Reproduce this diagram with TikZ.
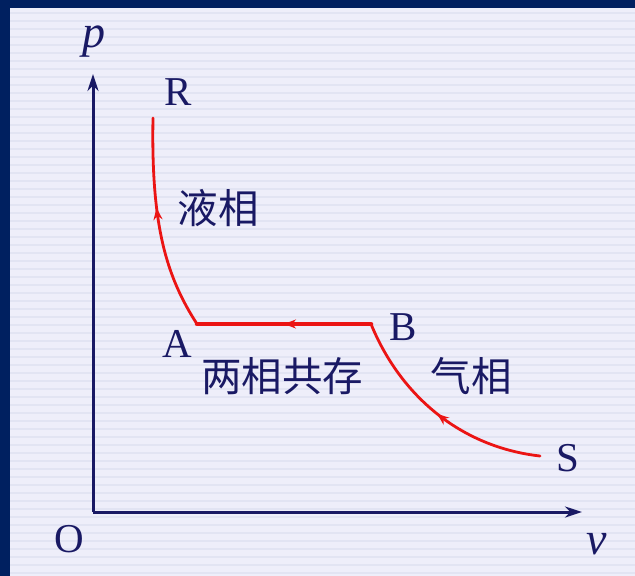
\documentclass[tikz,border=0pt]{standalone}
\usepackage{fontspec}
\setmainfont{Liberation Serif}
\newfontfamily\cjk{Noto Sans CJK SC}
\usetikzlibrary{arrows.meta,decorations.markings}
\definecolor{navyborder}{RGB}{0,32,96}
\definecolor{paper}{RGB}{238,238,250}
\definecolor{ruling}{RGB}{226,228,243}
\definecolor{ink}{RGB}{25,25,100}
\definecolor{curvered}{RGB}{235,20,20}
\tikzset{
  axis/.style={draw=ink, line width=3pt, -{Stealth[length=17pt,width=11pt]}},
  lbl/.style={text=ink, font=\fontsize{41}{43}\selectfont, inner sep=0pt},
  ilbl/.style={text=ink, font=\itshape\fontsize{46}{48}\selectfont, inner sep=0pt},
  cjklbl/.style={text=ink, font=\cjk\fontsize{40.5}{42}\selectfont, inner sep=0pt},
  phase/.style={draw=curvered, line width=2.8pt, line cap=round, line join=round},
  midarrow/.style={postaction={decorate}, decoration={markings,
     mark=at position #1 with {\arrow{Stealth[length=12pt,width=9pt]}}}}
}
\begin{document}
\begin{tikzpicture}[x=1pt,y=-1pt]
\useasboundingbox (0,0) rectangle (635,576);
\fill[navyborder] (0,0) rectangle (635,576);
\fill[paper] (10,8) rectangle (635,576);
\foreach \yy in {13,21,...,573} {\draw[ruling, line width=1.2pt] (10,\yy) -- (635,\yy);}
% axes
\coordinate (O) at (93,512);
\coordinate (ytip) at (93,74);
\coordinate (xtip) at (582,512);
\draw[axis] (O) -- (ytip);
\draw[axis] (O) -- (xtip);
% curve points
\coordinate (Rp) at (153,118);
\coordinate (Ap) at (197,324);
\coordinate (Bp) at (371,324);
\coordinate (Sp) at (540,456);
\draw[phase, midarrow=0.5] (Sp) .. controls (460,447) and (400,395) .. (Bp);
\draw[phase, line width=4.5pt, midarrow=0.5] (Bp) -- (Ap);
\draw[phase, midarrow=0.58] (Ap) .. controls (166,276) and (151,225) .. (Rp);
% labels
\node[ilbl] (plbl) at (94,42) {p};
\node[ilbl] (vlbl) at (597,544) {v};
\node[lbl] (Olbl) at (69,539) {O};
\node[lbl] (Rlbl) at (178,92) {R};
\node[lbl] (Albl) at (177,344) {A};
\node[lbl] (Blbl) at (403,327) {B};
\node[lbl] (Slbl) at (568,458) {S};
\node[cjklbl] (liq) at (218,208) {液相};
\node[cjklbl] (two) at (282,376) {两相共存};
\node[cjklbl] (gas) at (471,376) {气相};
\end{tikzpicture}
\end{document}
